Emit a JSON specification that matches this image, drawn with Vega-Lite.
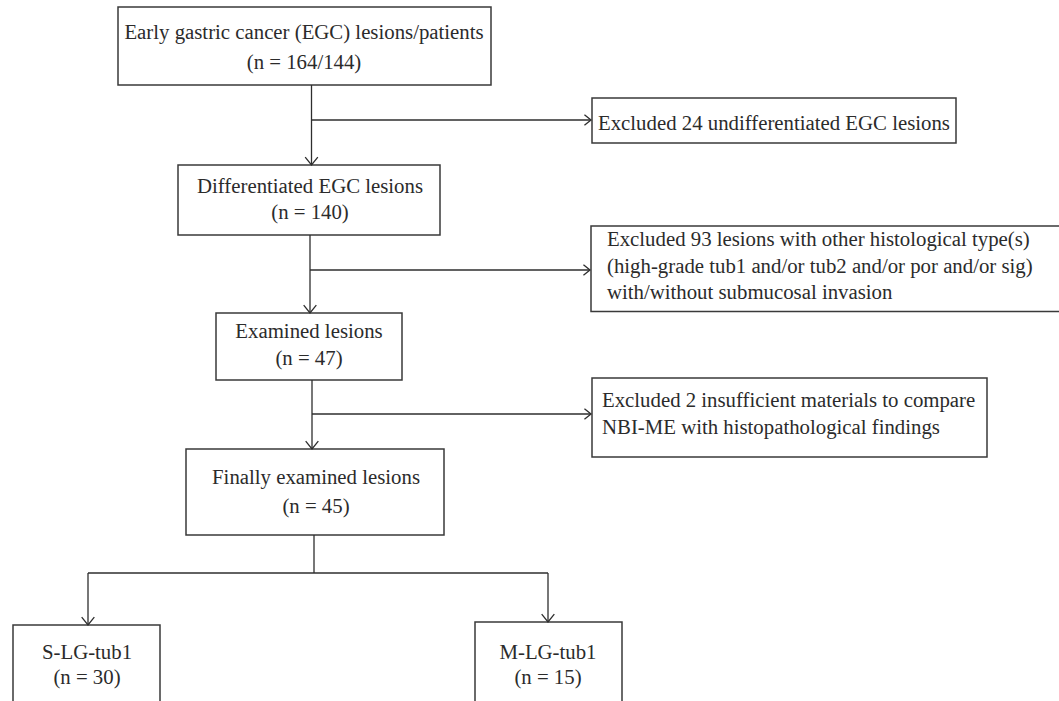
{
  "$schema": "https://vega.github.io/schema/vega-lite/v6.json",
  "width": 1059,
  "height": 701,
  "padding": 0,
  "autosize": {"type": "fit", "contains": "padding"},
  "background": "white",
  "config": {"view": {"stroke": null}},
  "datasets": {
    "boxes": [
      {"x1": 118, "x2": 491, "y1": 7, "y2": 85},
      {"x1": 592, "x2": 956, "y1": 98, "y2": 143},
      {"x1": 178, "x2": 440, "y1": 165, "y2": 235},
      {"x1": 591, "x2": 1066, "y1": 226, "y2": 311.5},
      {"x1": 216, "x2": 402, "y1": 313, "y2": 380},
      {"x1": 592, "x2": 987, "y1": 378, "y2": 457},
      {"x1": 186, "x2": 444, "y1": 449, "y2": 535},
      {"x1": 13, "x2": 160, "y1": 625, "y2": 712},
      {"x1": 475, "x2": 622, "y1": 622, "y2": 712}
    ],
    "lines": [
      {"x1": 311.5, "x2": 311.5, "y1": 85, "y2": 165},
      {"x1": 311.5, "x2": 590, "y1": 120, "y2": 120},
      {"x1": 310, "x2": 310, "y1": 235, "y2": 313},
      {"x1": 310, "x2": 589, "y1": 270, "y2": 270},
      {"x1": 312, "x2": 312, "y1": 380, "y2": 449},
      {"x1": 312, "x2": 590, "y1": 414, "y2": 414},
      {"x1": 314, "x2": 314, "y1": 535, "y2": 573},
      {"x1": 88, "x2": 548, "y1": 573, "y2": 573},
      {"x1": 88, "x2": 88, "y1": 573, "y2": 625},
      {"x1": 548, "x2": 548, "y1": 573, "y2": 622}
    ],
    "downArrows": [
      {"x": 311.5, "y": 165},
      {"x": 310, "y": 313},
      {"x": 312, "y": 449},
      {"x": 88, "y": 625},
      {"x": 548, "y": 622}
    ],
    "rightArrows": [
      {"x": 591, "y": 120},
      {"x": 590, "y": 270},
      {"x": 591, "y": 414}
    ],
    "centerText": [
      {"x": 304, "y": 33, "label": "Early gastric cancer (EGC) lesions/patients"},
      {"x": 304, "y": 63, "label": "(n = 164/144)"},
      {"x": 310, "y": 187, "label": "Differentiated EGC lesions"},
      {"x": 310, "y": 213, "label": "(n = 140)"},
      {"x": 309, "y": 332, "label": "Examined lesions"},
      {"x": 309, "y": 359, "label": "(n = 47)"},
      {"x": 316, "y": 478, "label": "Finally examined lesions"},
      {"x": 316, "y": 507, "label": "(n = 45)"},
      {"x": 87, "y": 653, "label": "S-LG-tub1"},
      {"x": 87, "y": 678, "label": "(n = 30)"},
      {"x": 548, "y": 653, "label": "M-LG-tub1"},
      {"x": 548, "y": 678, "label": "(n = 15)"}
    ],
    "leftText": [
      {"x": 598, "y": 124, "label": "Excluded 24 undifferentiated EGC lesions"},
      {"x": 607, "y": 240, "label": "Excluded 93 lesions with other histological type(s)"},
      {"x": 607, "y": 266.5, "label": "(high-grade tub1 and/or tub2 and/or por and/or sig)"},
      {"x": 607, "y": 293, "label": "with/without submucosal invasion"},
      {"x": 602, "y": 401, "label": "Excluded 2 insufficient materials to compare"},
      {"x": 602, "y": 428, "label": "NBI-ME with histopathological findings"}
    ]
  },
  "layer": [
    {
      "data": {"name": "boxes"},
      "mark": {"type": "rect", "fill": "white", "stroke": "#3a3a3a", "strokeWidth": 1.5, "clip": true},
      "encoding": {
        "x": {"field": "x1", "type": "quantitative", "scale": {"domain": [0, 1059], "nice": false, "zero": false}, "axis": null},
        "x2": {"field": "x2"},
        "y": {"field": "y1", "type": "quantitative", "scale": {"domain": [0, 701], "nice": false, "zero": false, "reverse": true}, "axis": null},
        "y2": {"field": "y2"}
      }
    },
    {
      "data": {"name": "lines"},
      "mark": {"type": "rule", "stroke": "#2e2e2e", "strokeWidth": 1.3},
      "encoding": {
        "x": {"field": "x1", "type": "quantitative"},
        "x2": {"field": "x2"},
        "y": {"field": "y1", "type": "quantitative"},
        "y2": {"field": "y2"}
      }
    },
    {
      "data": {"name": "downArrows"},
      "mark": {"type": "point", "shape": "M-1,-1.25L0,0L1,-1.25", "filled": false, "size": 160, "stroke": "#2e2e2e", "strokeWidth": 1.3, "opacity": 1},
      "encoding": {
        "x": {"field": "x", "type": "quantitative"},
        "y": {"field": "y", "type": "quantitative"}
      }
    },
    {
      "data": {"name": "rightArrows"},
      "mark": {"type": "point", "shape": "M-1.25,-1L0,0L-1.25,1", "filled": false, "size": 110, "stroke": "#2e2e2e", "strokeWidth": 1.3, "opacity": 1},
      "encoding": {
        "x": {"field": "x", "type": "quantitative"},
        "y": {"field": "y", "type": "quantitative"}
      }
    },
    {
      "data": {"name": "centerText"},
      "mark": {"type": "text", "font": "Liberation Serif", "fontSize": 20.8, "color": "#2b2b2b", "align": "center", "baseline": "middle"},
      "encoding": {
        "x": {"field": "x", "type": "quantitative"},
        "y": {"field": "y", "type": "quantitative"},
        "text": {"field": "label"}
      }
    },
    {
      "data": {"name": "leftText"},
      "mark": {"type": "text", "font": "Liberation Serif", "fontSize": 20.8, "color": "#2b2b2b", "align": "left", "baseline": "middle"},
      "encoding": {
        "x": {"field": "x", "type": "quantitative"},
        "y": {"field": "y", "type": "quantitative"},
        "text": {"field": "label"}
      }
    }
  ]
}
